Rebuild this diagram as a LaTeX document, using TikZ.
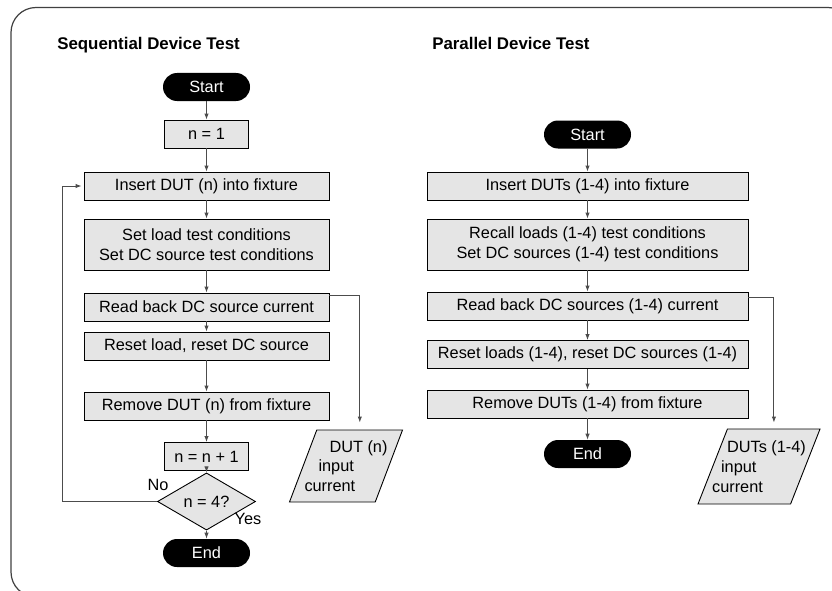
\documentclass[tikz,border=0pt]{standalone}
\usepackage{fontspec}
\setmainfont{Liberation Sans}
\usetikzlibrary{arrows.meta,positioning,shapes.geometric}

\newlength{\pxl}
\setlength{\pxl}{0.25mm}

\definecolor{boxgray}{gray}{0.9}
\definecolor{linegray}{gray}{0.3}
\definecolor{framegray}{gray}{0.25}

\tikzset{
  box/.style={draw=black, line width=0.9\pxl, fill=boxgray, minimum height=28\pxl, inner sep=0pt, align=center},
  wideS/.style={box, minimum width=245\pxl},
  wideP/.style={box, minimum width=321\pxl},
  small/.style={box, minimum width=84\pxl},
  term/.style={fill=black, text=white, rounded corners=14\pxl, minimum width=87\pxl, minimum height=28\pxl, inner sep=0pt},
  decision/.style={diamond, draw=black, line width=0.9\pxl, fill=boxgray, minimum width=98\pxl, minimum height=37\pxl, inner sep=0pt},
  iobox/.style={trapezium, trapezium left angle=65, trapezium right angle=115, trapezium stretches=true, draw=black, line width=0.9\pxl, fill=boxgray, inner sep=1pt},
  flow/.style={draw=linegray, line width=0.9\pxl, -{Latex[length=1.5mm,width=1.1mm]}},
  title/.style={font=\bfseries\fontsize{12}{14}\selectfont, anchor=base west, inner sep=0pt},
  lbl/.style={inner sep=0pt}
}

\begin{document}
\begin{tikzpicture}[x=0.25mm, y=-0.25mm, font=\fontsize{11.6}{14}\selectfont]

  \useasboundingbox (0,0) rectangle (832,590);
  \begin{scope}
    \clip (0,0) rectangle (832,590);
    \draw[framegray, line width=1.2\pxl, rounded corners=25\pxl] (11,7.5) rectangle (853,597);
  \end{scope}

  % sequential test
  \node[title] (seqtitle) at (57,50) {Sequential Device Test};

  \node[term] (startS) at (206.5,87) {Start};
  \node[small] (initS) at (206.5,134) {n = 1};
  \node[wideS] (insS) at (206.5,186) {Insert DUT (n) into fixture};
  \node[wideS, minimum height=51\pxl] (setS) at (206.5,244.5) {Set load test conditions\\Set DC source test conditions};
  \node[wideS] (readS) at (206.5,307) {Read back DC source current};
  \node[wideS] (resetS) at (206.5,346) {Reset load, reset DC source};
  \node[wideS] (remS) at (206.5,406) {Remove DUT (n) from fixture};
  \node[small] (incS) at (206.5,456.5) {n = n + 1};
  \node[decision] (testS) at (206.5,501.5) {n = 4?};
  \node[term] (endS) at (206.5,553) {End};
  \node[iobox, minimum width=113\pxl, minimum height=72\pxl,
        label={[align=left, inner sep=0pt]center:{\hspace*{25\pxl}DUT (n)\\\hspace*{14\pxl}input\\current}}] (curS) at (346,466) {};

  \node[lbl] (noS) at (158,485) {No};
  \node[lbl] (yesS) at (248,519) {Yes};
  \coordinate (loopS) at (62,501.5);

  \foreach \a/\b in {startS/initS, initS/insS, insS/setS, setS/readS, readS/resetS,
                     resetS/remS, remS/incS, incS/testS, testS/endS}
    \draw[flow] (\a) -- (\b);

  \draw[flow, shorten >=2\pxl] (testS.west) -- (loopS) |- (insS.west);
  \draw[flow, shorten >=7\pxl] ([yshift=-2.5\pxl]readS.north east) -| (curS.top side);

  % parallel test
  \node[title] (partitle) at (432,50) {Parallel Device Test};

  \node[term] (startP) at (587.5,134.5) {Start};
  \node[wideP] (insP) at (587.5,186) {Insert DUTs (1-4) into fixture};
  \node[wideP, minimum height=51\pxl] (setP) at (587.5,244.5) {Recall loads (1-4) test conditions\\Set DC sources (1-4) test conditions};
  \node[wideP] (readP) at (587.5,306) {Read back DC sources (1-4) current};
  \node[wideP] (resetP) at (587.5,354.5) {Reset loads (1-4), reset DC sources (1-4)};
  \node[wideP] (remP) at (587.5,404) {Remove DUTs (1-4) from fixture};
  \node[term] (endP) at (587.5,454) {End};
  \node[iobox, minimum width=122\pxl, minimum height=75\pxl,
        label={[align=left, inner sep=0pt]center:{\hspace*{15\pxl}DUTs (1-4)\\\hspace*{9\pxl}input\\current}}] (curP) at (759,466.5) {};

  \foreach \a/\b in {startP/insP, insP/setP, setP/readP, readP/resetP, resetP/remP, remP/endP}
    \draw[flow] (\a) -- (\b);

  \draw[flow, shorten >=6\pxl] ([yshift=-6\pxl]readP.north east) -| (curP.top side);

\end{tikzpicture}
\end{document}
